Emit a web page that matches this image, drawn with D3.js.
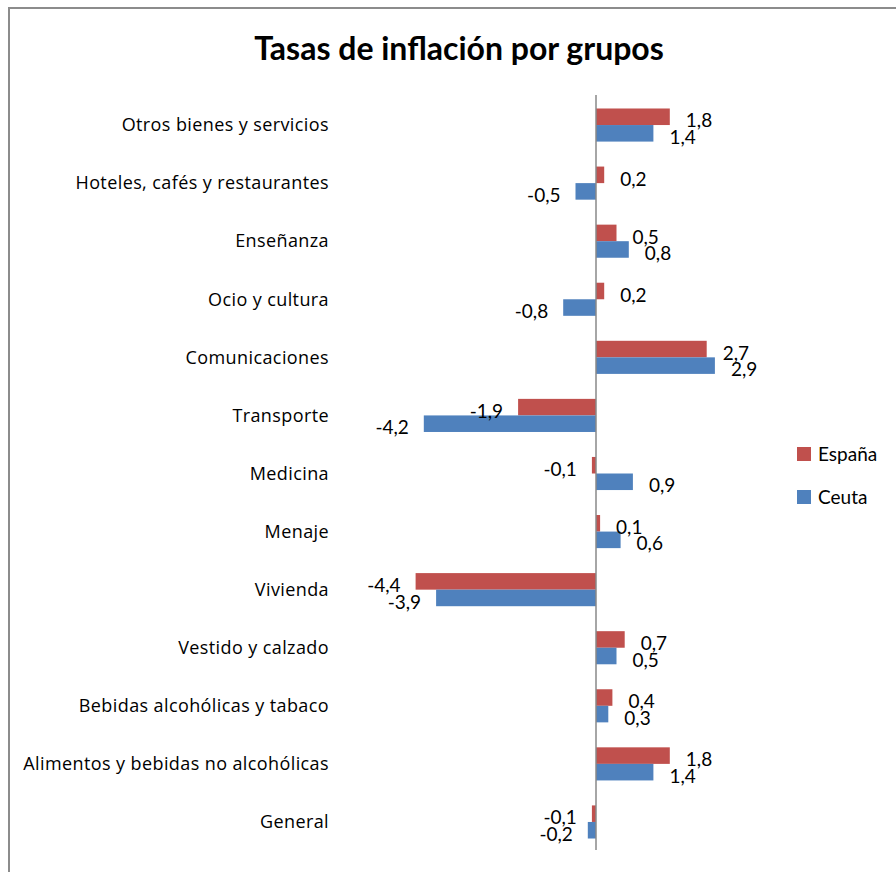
<!DOCTYPE html>
<html>
<head>
<meta charset="utf-8">
<script src="https://cdn.jsdelivr.net/npm/d3@7"></script>
<style>
  body { margin: 0; background: #fff; }
  svg { display: block; font-family: Lato, "Open Sans", sans-serif; }
</style>
</head>
<body>
<div id="chart"></div>
<script>
let categories = ["Otros bienes y servicios", "Hoteles, cafés y restaurantes", "Enseñanza", "Ocio y cultura",
  "Comunicaciones", "Transporte", "Medicina", "Menaje", "Vivienda", "Vestido y calzado",
  "Bebidas alcohólicas y tabaco", "Alimentos y bebidas no alcohólicas", "General"];
let espana = [1.8, 0.2, 0.5, 0.2, 2.7, -1.9, -0.1, 0.1, -4.4, 0.7, 0.4, 1.8, -0.1];
let ceuta  = [1.4, -0.5, 0.8, -0.8, 2.9, -4.2, 0.9, 0.6, -3.9, 0.5, 0.3, 1.4, -0.2];
let seriesNames = ["España", "Ceuta"];
let seriesColors = ["#C0504D", "#4F81BD"];

let width = 896, height = 872;
let svg = d3.select("#chart").append("svg").attr("width", width).attr("height", height);

// frame (cut off at right/bottom like the original screenshot)
svg.append("path")
  .attr("d", "M9," + height + " V8 H" + width)
  .attr("fill", "none").attr("stroke", "#8c8c8c").attr("stroke-width", 2);

svg.append("text")
  .attr("x", 459).attr("y", 60)
  .attr("text-anchor", "middle")
  .style("font-weight", "bold").style("font-size", "32px")
  .text("Tasas de inflación por grupos");

let x = d3.scaleLinear().domain([-5, 5]).range([391, 801]);
let y = d3.scaleBand().domain(categories).range([96, 851]).paddingInner(0.43).paddingOuter(0.215);
let ySub = d3.scaleBand().domain(seriesNames).range([0, y.bandwidth()]);

let fmt = function(v) { return v.toFixed(1).replace(".", ","); };

let rows = categories.map(function(c, i) {
  return { cat: c, vals: [espana[i], ceuta[i]] };
});

let groups = svg.selectAll("g.row").data(rows).enter().append("g")
  .attr("class", "row")
  .attr("transform", function(d) { return "translate(0," + y(d.cat) + ")"; });

groups.selectAll("rect").data(function(d) { return d.vals; }).enter().append("rect")
  .attr("x", function(d) { return x(Math.min(0, d)); })
  .attr("y", function(d, i) { return ySub(seriesNames[i]); })
  .attr("width", function(d) { return Math.abs(x(d) - x(0)); })
  .attr("height", ySub.bandwidth())
  .attr("fill", function(d, i) { return seriesColors[i]; });

groups.selectAll("text.val").data(function(d) { return d.vals; }).enter().append("text")
  .attr("class", "val")
  .attr("x", function(d) { return d >= 0 ? x(d) + 16 : x(d) - 15; })
  .attr("y", function(d, i) { return ySub(seriesNames[i]) + ySub.bandwidth() / 2 + 4; })
  .attr("dy", "0.35em")
  .attr("text-anchor", function(d) { return d >= 0 ? "start" : "end"; })
  .style("font-size", "19px")
  .text(function(d) { return fmt(d); });

// category labels
svg.selectAll("text.cat").data(categories).enter().append("text")
  .attr("class", "cat")
  .attr("x", 329)
  .attr("y", function(d) { return y(d) + y.bandwidth() / 2; })
  .attr("dy", "0.35em")
  .attr("text-anchor", "end")
  .style("font-family", "'Open Sans', sans-serif")
  .style("font-size", "18px")
  .style("letter-spacing", "0.4px")
  .text(function(d) { return d; });

// zero axis
svg.append("line")
  .attr("x1", x(0)).attr("x2", x(0))
  .attr("y1", 95).attr("y2", 850)
  .attr("stroke", "#888").attr("stroke-width", 1.5);

// legend
let legend = svg.selectAll("g.legend").data(seriesNames).enter().append("g")
  .attr("class", "legend")
  .attr("transform", function(d, i) { return "translate(797," + (447 + i * 43) + ")"; });
legend.append("rect").attr("width", 14).attr("height", 14)
  .attr("fill", function(d, i) { return seriesColors[i]; });
legend.append("text").attr("x", 21).attr("y", 7).attr("dy", "0.35em")
  .style("font-size", "19px")
  .text(function(d) { return d; });
</script>
</body>
</html>
